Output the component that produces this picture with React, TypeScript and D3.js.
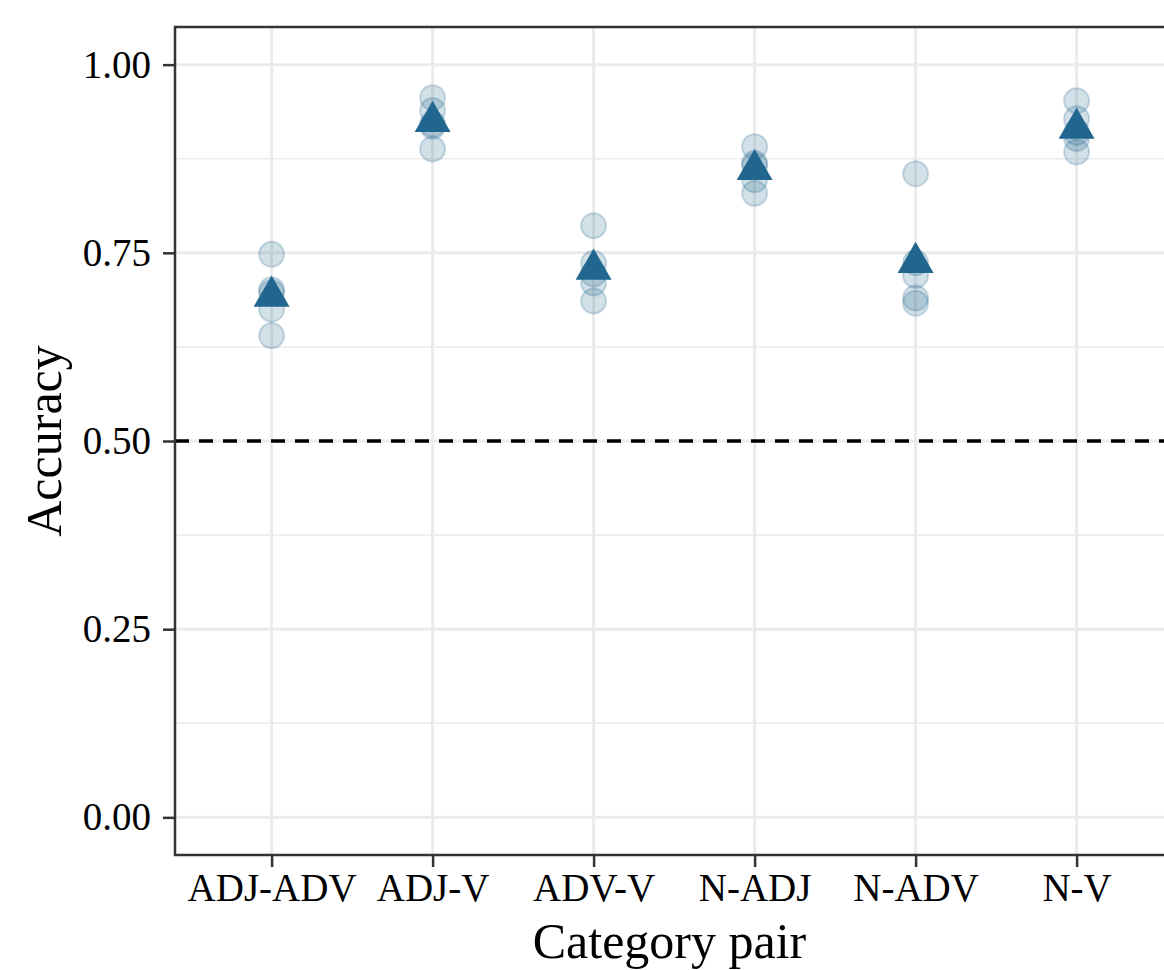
import React, { useEffect, useRef } from 'react';
import * as d3 from 'd3';

const categories = ['ADJ-ADV', 'ADJ-V', 'ADV-V', 'N-ADJ', 'N-ADV', 'N-V'];

// per-run accuracies, one list per category pair
const runs = [
  [0.748, 0.701, 0.697, 0.675, 0.64],
  [0.956, 0.939, 0.921, 0.918, 0.888],
  [0.786, 0.736, 0.722, 0.71, 0.686],
  [0.891, 0.869, 0.866, 0.847, 0.829],
  [0.855, 0.737, 0.72, 0.69, 0.683],
  [0.952, 0.928, 0.91, 0.902, 0.884]
];

const yTicks = [0, 0.25, 0.5, 0.75, 1];
const yMinor = [0.125, 0.375, 0.625, 0.875];
const chance = 0.5;

const W = 1164;
const H = 970;

const App = () => {
  const ref = useRef<SVGSVGElement>(null);

  useEffect(() => {
    const svg = d3.select(ref.current);
    svg.selectAll('*').remove();

    const left = 175;
    const top = 27;
    const bottom = 855;
    const step = 161;
    const right = left + step * 6.2;

    const x = d3
      .scalePoint<string>()
      .domain(categories)
      .range([left + step * 0.6, right - step * 0.6]);

    const y = d3.scaleLinear().domain([-0.05, 1.05]).range([bottom, top]);

    const font = '"Liberation Serif", "Times New Roman", serif';
    const grid = '#ebebeb';

    const g = svg.append('g');

    g.selectAll('.minor')
      .data(yMinor)
      .enter()
      .append('line')
      .attr('x1', left)
      .attr('x2', right)
      .attr('y1', d => y(d))
      .attr('y2', d => y(d))
      .attr('stroke', grid)
      .attr('stroke-width', 1.5);

    g.selectAll('.major')
      .data(yTicks)
      .enter()
      .append('line')
      .attr('x1', left)
      .attr('x2', right)
      .attr('y1', d => y(d))
      .attr('y2', d => y(d))
      .attr('stroke', grid)
      .attr('stroke-width', 3);

    g.selectAll('.vgrid')
      .data(categories)
      .enter()
      .append('line')
      .attr('x1', d => x(d)!)
      .attr('x2', d => x(d)!)
      .attr('y1', top)
      .attr('y2', bottom)
      .attr('stroke', grid)
      .attr('stroke-width', 3);

    g.append('line')
      .attr('x1', left)
      .attr('x2', right)
      .attr('y1', y(chance))
      .attr('y2', y(chance))
      .attr('stroke', '#000')
      .attr('stroke-width', 3.5)
      .attr('stroke-dasharray', '14,10');

    const pts = runs.flatMap((vals, i) => vals.map(v => ({ c: categories[i], v })));

    g.selectAll('.pt')
      .data(pts)
      .enter()
      .append('circle')
      .attr('cx', d => x(d.c)!)
      .attr('cy', d => y(d.v))
      .attr('r', 12.5)
      .attr('fill', 'rgba(31,99,141,0.2)')
      .attr('stroke', 'rgba(31,99,141,0.22)')
      .attr('stroke-width', 2);

    const means = runs.map((vals, i) => ({ c: categories[i], v: d3.mean(vals)! }));
    const tri = d3.symbol().type(d3.symbolTriangle).size(560);

    g.selectAll('.mean')
      .data(means)
      .enter()
      .append('path')
      .attr('d', tri)
      .attr('transform', d => `translate(${x(d.c)},${y(d.v)})`)
      .attr('fill', '#21668f');

    // panel border
    g.append('rect')
      .attr('x', left)
      .attr('y', top)
      .attr('width', right - left)
      .attr('height', bottom - top)
      .attr('fill', 'none')
      .attr('stroke', '#333')
      .attr('stroke-width', 2.5);

    const yAxis = g
      .append('g')
      .attr('transform', `translate(${left},0)`)
      .call(
        d3
          .axisLeft(y)
          .tickValues(yTicks)
          .tickFormat(d3.format('.2f'))
          .tickSize(12)
          .tickPadding(12)
      );
    yAxis.select('.domain').remove();
    yAxis.selectAll('line').attr('stroke', '#333').attr('stroke-width', 2.5);
    yAxis
      .selectAll('text')
      .attr('fill', '#000')
      .style('font-family', font)
      .style('font-size', '39px');

    const xAxis = g
      .append('g')
      .attr('transform', `translate(0,${bottom})`)
      .call(d3.axisBottom(x).tickSize(12).tickPadding(6));
    xAxis.select('.domain').remove();
    xAxis.selectAll('line').attr('stroke', '#333').attr('stroke-width', 2.5);
    xAxis
      .selectAll('text')
      .attr('fill', '#000')
      .style('font-family', font)
      .style('font-size', '39px');

    svg
      .append('text')
      .attr('x', (left + W) / 2)
      .attr('y', 958)
      .attr('text-anchor', 'middle')
      .style('font-family', font)
      .style('font-size', '50px')
      .text('Category pair');

    svg
      .append('text')
      .attr('transform', `translate(61,${(top + bottom) / 2}) rotate(-90)`)
      .attr('text-anchor', 'middle')
      .style('font-family', font)
      .style('font-size', '50px')
      .text('Accuracy');
  }, []);

  return (
    <svg
      ref={ref}
      width={W}
      height={H}
      style={{ position: 'absolute', left: 0, top: 0, background: '#fff' }}
    />
  );
};

export default App;
